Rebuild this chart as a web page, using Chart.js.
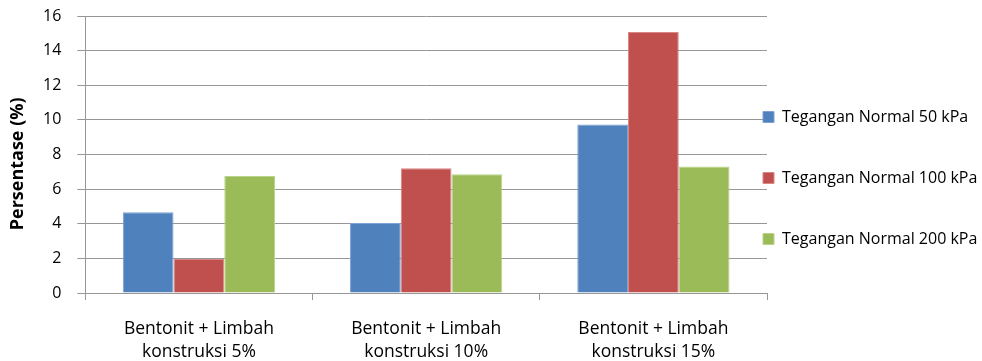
<!DOCTYPE html>
<html>
<head>
<meta charset="utf-8">
<script src="https://cdn.jsdelivr.net/npm/chart.js@4.4.1/dist/chart.umd.min.js"></script>
<style>
  html, body { margin: 0; padding: 0; background: #fff; }
  #wrap { width: 982px; height: 361px; position: relative; }
</style>
</head>
<body>
<div id="wrap"><canvas id="c"></canvas></div>
<script>
// Categories (two-line labels) and measured percentages per normal stress
const categories = [
  ['Bentonit + Limbah', 'konstruksi 5%'],
  ['Bentonit + Limbah', 'konstruksi 10%'],
  ['Bentonit + Limbah', 'konstruksi 15%']
];
const seriesNames = ['Tegangan Normal 50 kPa', 'Tegangan Normal 100 kPa', 'Tegangan Normal 200 kPa'];
const normal50 = [4.66, 4.04, 9.74];
const normal100 = [1.96, 7.20, 15.08];
const normal200 = [6.76, 6.86, 7.30];
const yTicks = [0, 2, 4, 6, 8, 10, 12, 14, 16];

const colors = ['#4F81BD', '#C0504D', '#9BBB59'];
const edges = ['#7EA2D1', '#D98684', '#B9D48A'];
const FONT = '"Open Sans", Lato, sans-serif';

// Legend block placement (left edge of the colour boxes, top of the block)
const LEGEND_X = 763;
const LEGEND_Y = 109;

// Places the legend to the right of the plot, outside the chart area
const legendPlace = {
  id: 'legendPlace',
  afterLayout(chart) {
    const lg = chart.legend;
    if (!lg) return;
    const pad = lg.options.labels.padding;
    const w = lg.width, h = lg.height;
    lg.left = LEGEND_X - pad;
    lg.right = lg.left + w;
    lg.top = LEGEND_Y - pad;
    lg.bottom = lg.top + h;
  }
};

new Chart(document.getElementById('c'), {
  type: 'bar',
  data: {
    labels: categories,
    datasets: [normal50, normal100, normal200].map((vals, i) => ({
      label: seriesNames[i],
      data: vals,
      backgroundColor: colors[i],
      borderColor: edges[i],
      borderWidth: 1,
      categoryPercentage: 0.67,
      barPercentage: 1.0
    }))
  },
  options: {
    responsive: true,
    maintainAspectRatio: false,
    animation: false,
    layout: { padding: { top: 0, right: 215, bottom: 0, left: 9 } },
    plugins: {
      tooltip: { enabled: false },
      legend: {
        position: 'chartArea',
        align: 'start',
        labels: {
          boxWidth: 11,
          boxHeight: 11,
          padding: 45,
          color: '#000',
          font: { family: FONT, size: 16 }
        }
      }
    },
    scales: {
      x: {
        afterFit(scale) { scale.height = 68; },
        grid: {
          offset: true,
          drawOnChartArea: false,
          drawTicks: true,
          tickLength: 7,
          color: '#969696'
        },
        border: { color: '#969696', width: 1 },
        ticks: {
          color: '#000',
          font: { family: FONT, size: 17.5, lineHeight: 1.3 },
          padding: 18,
          maxRotation: 0
        }
      },
      y: {
        min: 0,
        max: 16,
        afterBuildTicks(axis) { axis.ticks = yTicks.map(v => ({ value: v })); },
        afterFit(scale) { scale.paddingTop = 16; },
        grid: { color: '#969696', lineWidth: 1, tickLength: 8 },
        border: { color: '#969696', width: 1 },
        ticks: {
          color: '#000',
          font: { family: FONT, size: 16 },
          padding: 16
        },
        title: {
          display: true,
          text: 'Persentase (%)    ',
          color: '#000',
          font: { family: FONT, size: 18, weight: 'bold', lineHeight: 1.0 },
          padding: { top: 0, bottom: 0 }
        }
      }
    }
  },
  plugins: [legendPlace]
});
</script>
</body>
</html>
